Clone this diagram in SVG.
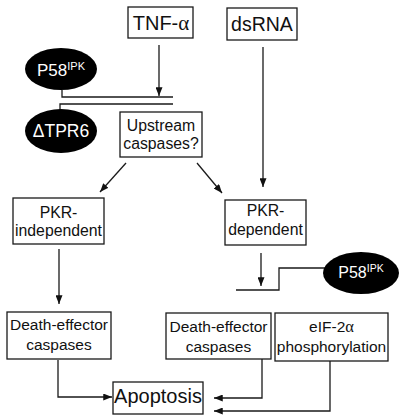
<svg xmlns="http://www.w3.org/2000/svg" width="402" height="419" viewBox="0 0 402 419">
<style>
.box{fill:#fff;stroke:#1a1a1a;stroke-width:1.3}
.ell{fill:#000;stroke:none}
.t{font-family:"Liberation Sans",Arial,sans-serif;fill:#111;text-anchor:middle}
.w{font-family:"Liberation Sans",Arial,sans-serif;fill:#fff;text-anchor:middle}
.c{fill:none;stroke:#1a1a1a;stroke-width:1.3}
.g{font-family:"Liberation Serif","Times New Roman",serif}
</style>
<defs>
<marker id="ah" viewBox="0 0 10 8" refX="10" refY="4" markerWidth="9" markerHeight="7" markerUnits="userSpaceOnUse" orient="auto">
<path d="M0,0 L10,4 L0,8 z" fill="#111"/>
</marker>
</defs>
<rect width="402" height="419" fill="#fff"/>
<g id="connectors">
<path class="c" d="M159,45 L159,96" marker-end="url(#ah)"/>
<path class="c" d="M62,90 L62,97 L173,97"/>
<path class="c" d="M60,110 L60,104 L173,104"/>
<path class="c" d="M126,163 L100,192" marker-end="url(#ah)"/>
<path class="c" d="M197,163 L222,193" marker-end="url(#ah)"/>
<path class="c" d="M263,47 L263,187" marker-end="url(#ah)"/>
<path class="c" d="M59,249 L59,304" marker-end="url(#ah)"/>
<path class="c" d="M261,253 L261,286" marker-end="url(#ah)"/>
<path class="c" d="M236,290 L279,290 L279,268 L326,268"/>
<path class="c" d="M58,360 L58,397 L112,397" marker-end="url(#ah)"/>
<path class="c" d="M262,359 L262,398 L214,398" marker-end="url(#ah)"/>
<path class="c" d="M330,361 L330,411 L214,411" marker-end="url(#ah)"/>
</g>
<g id="tnf">
<rect class="box" x="128" y="7" width="65" height="31"/>
<text class="t" x="161" y="30" font-size="20">TNF-<tspan class="g" font-size="21">α</tspan></text>
</g>
<g id="dsrna">
<rect class="box" x="227" y="8" width="70" height="32"/>
<text class="t" x="262" y="31" font-size="19.5">dsRNA</text>
</g>
<g id="p58-top">
<ellipse class="ell" cx="61" cy="69" rx="36" ry="21"/>
<text class="w" x="61" y="76" font-size="17">P58<tspan font-size="11" dy="-6">IPK</tspan></text>
</g>
<g id="dtpr6">
<ellipse class="ell" cx="61" cy="131" rx="36" ry="22"/>
<text class="w" x="61" y="137" font-size="17.5">ΔTPR6</text>
</g>
<g id="upstream">
<rect class="box" x="120" y="112" width="82" height="45"/>
<text class="t" x="161" y="131" font-size="15.8">Upstream</text>
<text class="t" x="161" y="149" font-size="15.8">caspases?</text>
</g>
<g id="pkr-ind">
<rect class="box" x="13" y="198" width="91" height="46"/>
<text class="t" x="58.5" y="218" font-size="15.8">PKR-</text>
<text class="t" x="58.5" y="236" font-size="15.8">independent</text>
</g>
<g id="pkr-dep">
<rect class="box" x="225" y="200" width="81" height="45"/>
<text class="t" x="265.5" y="216" font-size="15.8">PKR-</text>
<text class="t" x="265.5" y="235" font-size="15.8">dependent</text>
</g>
<g id="p58-bottom">
<ellipse class="ell" cx="361" cy="273" rx="38" ry="21"/>
<text class="w" x="361" y="278" font-size="16">P58<tspan font-size="10.5" dy="-6">IPK</tspan></text>
</g>
<g id="de-left">
<rect class="box" x="7" y="312" width="104" height="47"/>
<text class="t" x="59" y="330" font-size="15.5">Death-effector</text>
<text class="t" x="59" y="350" font-size="15.5">caspases</text>
</g>
<g id="de-mid">
<rect class="box" x="166" y="313" width="105" height="46"/>
<text class="t" x="218.5" y="332" font-size="15.5">Death-effector</text>
<text class="t" x="218.5" y="352" font-size="15.5">caspases</text>
</g>
<g id="eif">
<rect class="box" x="275" y="313" width="113" height="48"/>
<text class="t" x="331.5" y="332" font-size="15.5">eIF-2<tspan class="g" font-size="16.5">α</tspan></text>
<text class="t" x="331.5" y="352" font-size="15.5">phosphorylation</text>
</g>
<g id="apoptosis">
<rect class="box" x="113" y="382" width="90" height="32"/>
<text class="t" x="158" y="403" font-size="20">Apoptosis</text>
</g>
</svg>
